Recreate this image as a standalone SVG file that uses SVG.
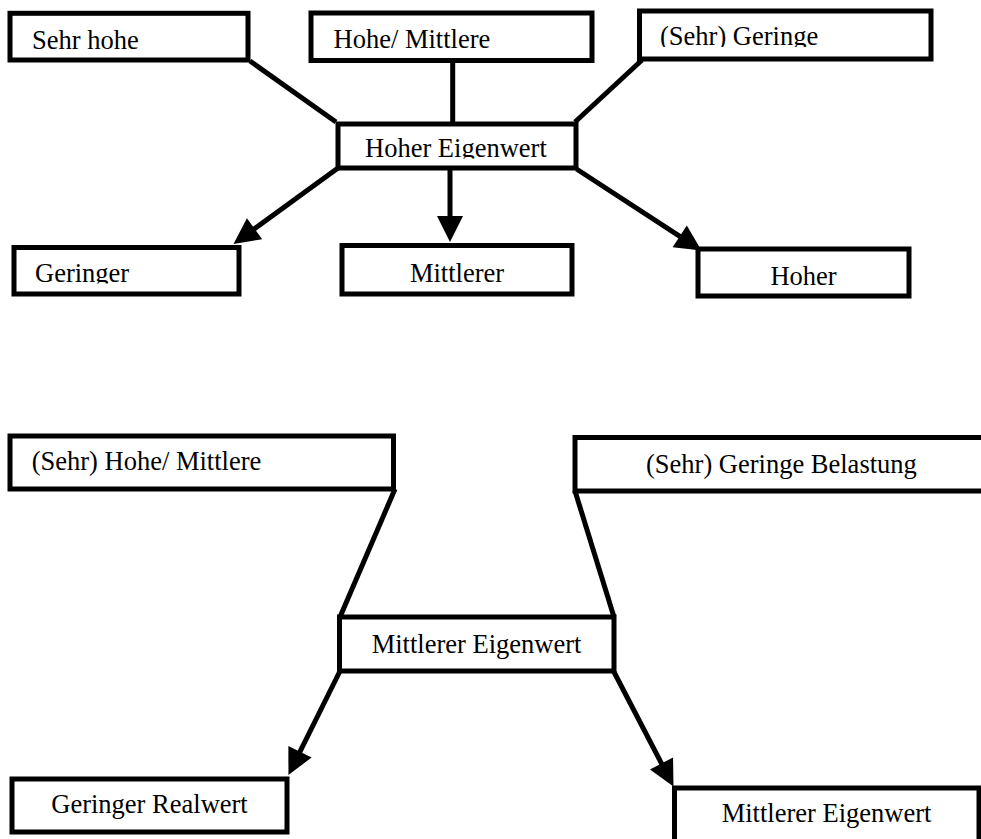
<svg xmlns="http://www.w3.org/2000/svg" width="981" height="839" viewBox="0 0 981 839">
  <style>
    .box { fill: #ffffff; stroke: #000000; stroke-width: 5; }
    .lbl { font-family: "Liberation Serif", "Times New Roman", serif; font-size: 26.5px; fill: #000000; }
    .c { text-anchor: middle; }
    .link { stroke: #000000; stroke-width: 5; fill: none; }
    .arrow { stroke: #000000; stroke-width: 5; fill: none; marker-end: url(#head); }
  </style>
  <defs>
    <marker id="head" markerUnits="userSpaceOnUse" markerWidth="26" markerHeight="26" refX="18" refY="13" orient="auto" overflow="visible">
      <path d="M0,0 L26,13 L0,26 z" fill="#000000"/>
    </marker>
    <!-- text boxes that cut off their descenders -->
    <clipPath id="clipHE"><rect x="338" y="124" width="238" height="34.5"/></clipPath>
    <clipPath id="clipSG"><rect x="639" y="11" width="292" height="36"/></clipPath>
    <clipPath id="clipG"><rect x="14" y="247" width="225" height="36.5"/></clipPath>
  </defs>
  <rect width="981" height="839" fill="#ffffff"/>

  <g id="connectors">
    <line class="link" x1="250" y1="61" x2="336" y2="122"/>
    <line class="link" x1="452.7" y1="62" x2="452.7" y2="122"/>
    <line class="link" x1="642" y1="60" x2="575" y2="122"/>
    <line class="arrow" x1="338" y1="168" x2="240" y2="239.3"/>
    <line class="arrow" x1="450" y1="170" x2="450" y2="234"/>
    <line class="arrow" x1="576.5" y1="169" x2="694.8" y2="246.1"/>
    <line class="link" x1="395" y1="489" x2="340" y2="617"/>
    <line class="link" x1="575" y1="491" x2="614" y2="617"/>
    <line class="arrow" x1="340" y1="671" x2="292" y2="767.8"/>
    <line class="arrow" x1="614" y1="672" x2="669.8" y2="779.4"/>
  </g>

  <g id="sehr-hohe">
    <rect class="box" x="10" y="13.3" width="238" height="46.7"/>
    <text class="lbl" x="32" y="49">Sehr hohe</text>
  </g>
  <g id="hohe-mittlere">
    <rect class="box" x="311" y="13" width="281" height="47.5"/>
    <text class="lbl" x="333.5" y="48.3">Hohe/ Mittlere</text>
  </g>
  <g id="sehr-geringe">
    <rect class="box" x="639.5" y="11" width="291.5" height="48"/>
    <text class="lbl" x="660" y="45" clip-path="url(#clipSG)">(Sehr) Geringe</text>
  </g>
  <g id="hoher-eigenwert">
    <rect class="box" x="338" y="124" width="238" height="44"/>
    <text class="lbl" x="365" y="156.7" clip-path="url(#clipHE)">Hoher Eigenwert</text>
  </g>
  <g id="geringer">
    <rect class="box" x="14" y="247.5" width="225" height="46.5"/>
    <text class="lbl" x="35" y="281.7" clip-path="url(#clipG)">Geringer</text>
  </g>
  <g id="mittlerer">
    <rect class="box" x="342" y="245.5" width="230" height="48.5"/>
    <text class="lbl c" x="457" y="281.7">Mittlerer</text>
  </g>
  <g id="hoher">
    <rect class="box" x="698" y="249" width="211" height="47"/>
    <text class="lbl c" x="803.5" y="285">Hoher</text>
  </g>

  <g id="sehr-hohe-mittlere">
    <rect class="box" x="10" y="436" width="383.5" height="53"/>
    <text class="lbl" x="31.7" y="470">(Sehr) Hohe/ Mittlere</text>
  </g>
  <g id="sehr-geringe-belastung">
    <rect class="box" x="575" y="437.5" width="420" height="53.5"/>
    <text class="lbl" x="646" y="473.3">(Sehr) Geringe Belastung</text>
  </g>
  <g id="mittlerer-eigenwert">
    <rect class="box" x="339.5" y="617" width="274.5" height="54"/>
    <text class="lbl c" x="476.5" y="652.7">Mittlerer Eigenwert</text>
  </g>
  <g id="geringer-realwert">
    <rect class="box" x="12" y="779" width="275" height="53"/>
    <text class="lbl c" x="149.5" y="813.3">Geringer Realwert</text>
  </g>
  <g id="mittlerer-eigenwert-2">
    <rect class="box" x="674.5" y="788" width="304.5" height="55"/>
    <text class="lbl" x="721.7" y="821.7">Mittlerer Eigenwert</text>
  </g>
</svg>
